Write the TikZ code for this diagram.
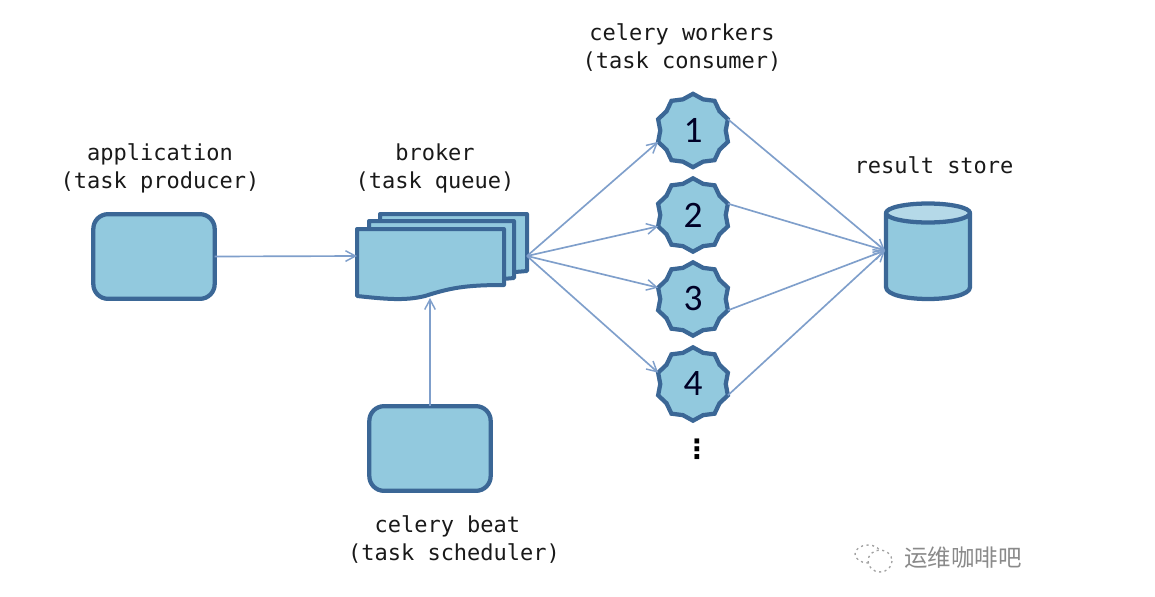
\documentclass[tikz,border=0pt]{standalone}
\usepackage{fontspec}
\setmainfont{DejaVu Sans Mono}
\newfontfamily\digitfont{Carlito}
\newfontfamily\cjk{Noto Sans CJK SC}
\newfontfamily\dotsfont{DejaVu Sans}
\usetikzlibrary{shapes.geometric,arrows.meta}
\definecolor{fillblue}{HTML}{92C9DE}
\definecolor{topblue}{HTML}{B5D9E8}
\definecolor{edgeblue}{HTML}{3B6796}
\definecolor{linkblue}{HTML}{7F9FCB}
\definecolor{markgray}{HTML}{8A8A8A}
\tikzset{
  x=0.75pt,y=-0.75pt,
  boxnode/.style={draw=edgeblue,fill=fillblue,line width=3.2pt,rounded corners=11pt,minimum width=91pt,minimum height=63.5pt,inner sep=0pt,outer sep=0pt},
  sheet/.style={draw=edgeblue,fill=fillblue,line width=3pt,line join=round},
  workernode/.style={star,star points=10,star point ratio=1.12,draw=edgeblue,fill=fillblue,line width=3.2pt,minimum size=55pt,inner sep=0pt,outer sep=0pt,font=\digitfont\fontsize{28}{28}\selectfont,text=black!85!blue},
  storeedge/.style={draw=edgeblue,line width=3.2pt,line join=round},
  labeltext/.style={font=\fontsize{16.5}{21}\selectfont,align=center,text=black!90,inner sep=0pt},
  link/.style={draw=linkblue,line width=1.25pt,-{Straight Barb[length=7.5pt,width=8pt,line width=1.1pt]}},
  markline/.style={draw=markgray!80,line width=1pt,dash pattern=on 1.6pt off 2.6pt}
}
\begin{document}
\begin{tikzpicture}
\useasboundingbox (0,0) rectangle (1155,596);
% sheets of the broker
\draw[sheet] (380,214) -- (527,214) -- (527,271) -- (480,275) -- (380,275) -- cycle;
\draw[sheet] (369,221) -- (514,221) -- (514,278) -- (470,282) -- (369,282) -- cycle;
\draw[sheet] (357,229) -- (504,229) -- (504,285) .. controls (465,285) and (450,288) .. (425,296) .. controls (405,301) and (385,299) .. (357,296) -- cycle;
\node[inner sep=0pt,outer sep=0pt,minimum width=127.5pt,minimum height=63pt] (broker) at (442,256) {};
% boxes
\node[boxnode] (app) at (154,256.5) {};
\node[boxnode] (beat) at (430,448.5) {};
\node[workernode] (w1) at (693,130.5) {1};
\node[workernode] (w2) at (693,215) {2};
\node[workernode] (w3) at (693,299) {3};
\node[workernode] (w4) at (693,384) {4};
% result store
\path[storeedge,fill=fillblue] (886,213) -- (886,287) .. controls (886,303) and (970,303) .. (970,287) -- (970,213) -- cycle;
\path[storeedge,fill=topblue] (928,213) ellipse [x radius=42,y radius=9.5];
\node[inner sep=0pt,outer sep=0pt,minimum width=64.5pt,minimum height=71pt] (store) at (928,250.5) {};
% labels
\node[labeltext] (applabel) at (160,168) {application\\(task producer)};
\node[labeltext] (brokerlabel) at (435,168) {broker\\(task queue)};
\node[labeltext] (workerlabel) at (682,48) {celery workers\\(task consumer)};
\node[labeltext] (storelabel) at (934,165) {result store};
\node[labeltext] (beatlabel) at (454,540) {celery beat\phantom{x}\\(task scheduler)};
\node[inner sep=0pt,font=\dotsfont\bfseries\fontsize{20}{20}\selectfont] (more) at (697,449) {⋮};
% connectors
\draw[link] (app.east) -- (broker.west);
\draw[link] (beat.north) -- (beat.north |- broker.south);
\draw[link] (broker.east) -- (w1.198);
\draw[link] (broker.east) -- (w2.198);
\draw[link] (broker.east) -- (w3.162);
\draw[link] (broker.east) -- (w4.162);
\draw[link] (w1.18) -- (store.west);
\draw[link] (w2.18) -- (store.west);
\draw[link] (w3.-18) -- (store.west);
\draw[link] (w4.-18) -- (store.west);
% watermark
\draw[markline] (868,554) ellipse [x radius=13,y radius=9];
\draw[fill=white,draw=none] (880,561) ellipse [x radius=11,y radius=10];
\draw[markline] (880,561) ellipse [x radius=12,y radius=11];
\node[inner sep=0pt,font=\cjk\fontsize{17.6}{17.6}\selectfont,text=markgray] (mark) at (963,558) {运维咖啡吧};
\end{tikzpicture}
\end{document}
